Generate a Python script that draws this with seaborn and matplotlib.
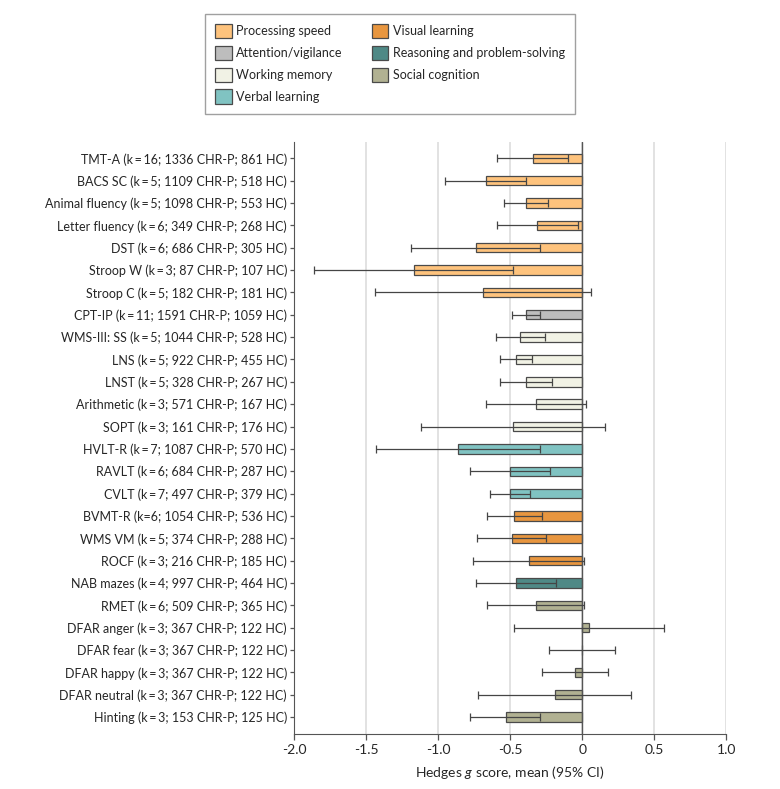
import numpy as np
import pandas as pd
import matplotlib
matplotlib.use('Agg')
import matplotlib.pyplot as plt
from matplotlib.patches import Patch
import seaborn as sns

''' DATA '''
T = '\u2009'
tests = ['TMT-A', 'BACS SC', 'Animal fluency', 'Letter fluency', 'DST', 'Stroop W',
         'Stroop C', 'CPT-IP', 'WMS-III: SS', 'LNS', 'LNST', 'Arithmetic', 'SOPT',
         'HVLT-R', 'RAVLT', 'CVLT', 'BVMT-R', 'WMS VM', 'ROCF', 'NAB mazes', 'RMET',
         'DFAR anger', 'DFAR fear', 'DFAR happy', 'DFAR neutral', 'Hinting']
k_studies = [16, 5, 5, 6, 6, 3, 5, 11, 5, 5, 5, 3, 3, 7, 6, 7, 6, 5, 3, 4, 6, 3, 3, 3, 3, 3]
n_chr = [1336, 1109, 1098, 349, 686, 87, 182, 1591, 1044, 922, 328, 571, 161,
         1087, 684, 497, 1054, 374, 216, 997, 509, 367, 367, 367, 367, 153]
n_hc = [861, 518, 553, 268, 305, 107, 181, 1059, 528, 455, 267, 167, 176,
        570, 287, 379, 536, 288, 185, 464, 365, 122, 122, 122, 122, 125]
domains = (['Processing speed'] * 7 + ['Attention/vigilance'] +
           ['Working memory'] * 5 + ['Verbal learning'] * 3 +
           ['Visual learning'] * 3 + ['Reasoning and problem-solving'] +
           ['Social cognition'] * 6)
g_mean = [-0.34, -0.67, -0.39, -0.31, -0.74, -1.17, -0.69, -0.39, -0.43, -0.46,
          -0.39, -0.32, -0.48, -0.86, -0.50, -0.50, -0.47, -0.49, -0.37, -0.46,
          -0.32, 0.05, 0.00, -0.05, -0.19, -0.53]
ci_low = [-0.59, -0.95, -0.54, -0.59, -1.19, -1.86, -1.44, -0.49, -0.60, -0.57,
          -0.57, -0.67, -1.12, -1.43, -0.78, -0.64, -0.66, -0.73, -0.76, -0.74,
          -0.66, -0.47, -0.23, -0.28, -0.72, -0.78]
ci_high = [-0.10, -0.39, -0.24, -0.03, -0.29, -0.48, 0.06, -0.29, -0.26, -0.35,
           -0.21, 0.03, 0.16, -0.29, -0.22, -0.36, -0.28, -0.25, 0.01, -0.18,
           0.01, 0.57, 0.23, 0.18, 0.34, -0.29]

domain_order = ['Processing speed', 'Attention/vigilance', 'Working memory',
                'Verbal learning', 'Visual learning', 'Reasoning and problem-solving',
                'Social cognition']
domain_colors = ['#FEC37D', '#BDBDBD', '#F1F2E5', '#80C3C2', '#E8963F',
                 '#4F8986', '#B1B192']

''' FRAME '''
labels = []
for t, k, c, h in zip(tests, k_studies, n_chr, n_hc):
    eq = '=' if t == 'BVMT-R' else T + '=' + T
    labels.append('%s (k%s%d; %d CHR-P; %d HC)' % (t, eq, k, c, h))
df = pd.DataFrame({'label': labels, 'domain': domains, 'g': g_mean,
                   'lo': ci_low, 'hi': ci_high})
palette = dict(zip(domain_order, domain_colors))

''' PLOT '''
sns.set_style('white')
plt.rcParams['font.family'] = ['Lato', 'DejaVu Sans']
plt.rcParams['mathtext.fontset'] = 'custom'
plt.rcParams['mathtext.it'] = 'Lato:italic'

fig = plt.figure(figsize=(7.8, 7.89), dpi=100)
ax = fig.add_axes([0.377, 0.0697, 0.554, 0.750])

ax.xaxis.grid(True, color='#dddddd', lw=1.2, zorder=0)
ax.set_axisbelow(True)
sns.barplot(data=df, x='g', y='label', hue='domain', order=labels,
            hue_order=domain_order, palette=palette, saturation=1, dodge=False,
            width=0.42, edgecolor='#4a4a4a', linewidth=0.9, legend=False, ax=ax,
            zorder=2)
ypos = np.arange(len(df))
ax.errorbar(df['g'], ypos, xerr=[df['g'] - df['lo'], df['hi'] - df['g']],
            fmt='none', ecolor='#454545', elinewidth=0.9, capsize=3,
            capthick=0.9, zorder=4)
ax.axvline(0, color='#555555', lw=1.0, zorder=3)

ax.set_xlim(-2.0, 1.0)
ax.set_ylim(25.76, -0.72)
ax.set_xticks([-2.0, -1.5, -1.0, -0.5, 0, 0.5, 1.0])
ax.set_xticklabels(['-2.0', '-1.5', '-1.0', '-0.5', '0', '0.5', '1.0'])
ax.set_ylabel('')
ax.set_xlabel('Hedges $g$ score, mean (95% CI)', fontsize=10, labelpad=6)
ax.tick_params(axis='x', labelsize=10, length=4, color='#555555', width=0.9,
               bottom=True, pad=3)
ax.tick_params(axis='y', labelsize=9, length=3, color='#555555', width=0.9,
               left=True, pad=2)
sns.despine(ax=ax)
ax.spines['left'].set_color('#555555')
ax.spines['bottom'].set_color('#555555')

handles = [Patch(facecolor=c, edgecolor='#4a4a4a', lw=0.9, label=d)
           for d, c in zip(domain_order, domain_colors)]
leg = fig.legend(handles=handles, loc='upper center', bbox_to_anchor=(0.5, 0.99),
                 ncol=2, frameon=True, fancybox=False, fontsize=9,
                 handlelength=1.35, handleheight=1.35, handletextpad=0.35,
                 columnspacing=2.3, labelspacing=0.62, borderpad=0.8)
leg.get_frame().set_edgecolor('#888888')
leg.get_frame().set_linewidth(1.0)

fig.savefig('out.png', dpi=100)
